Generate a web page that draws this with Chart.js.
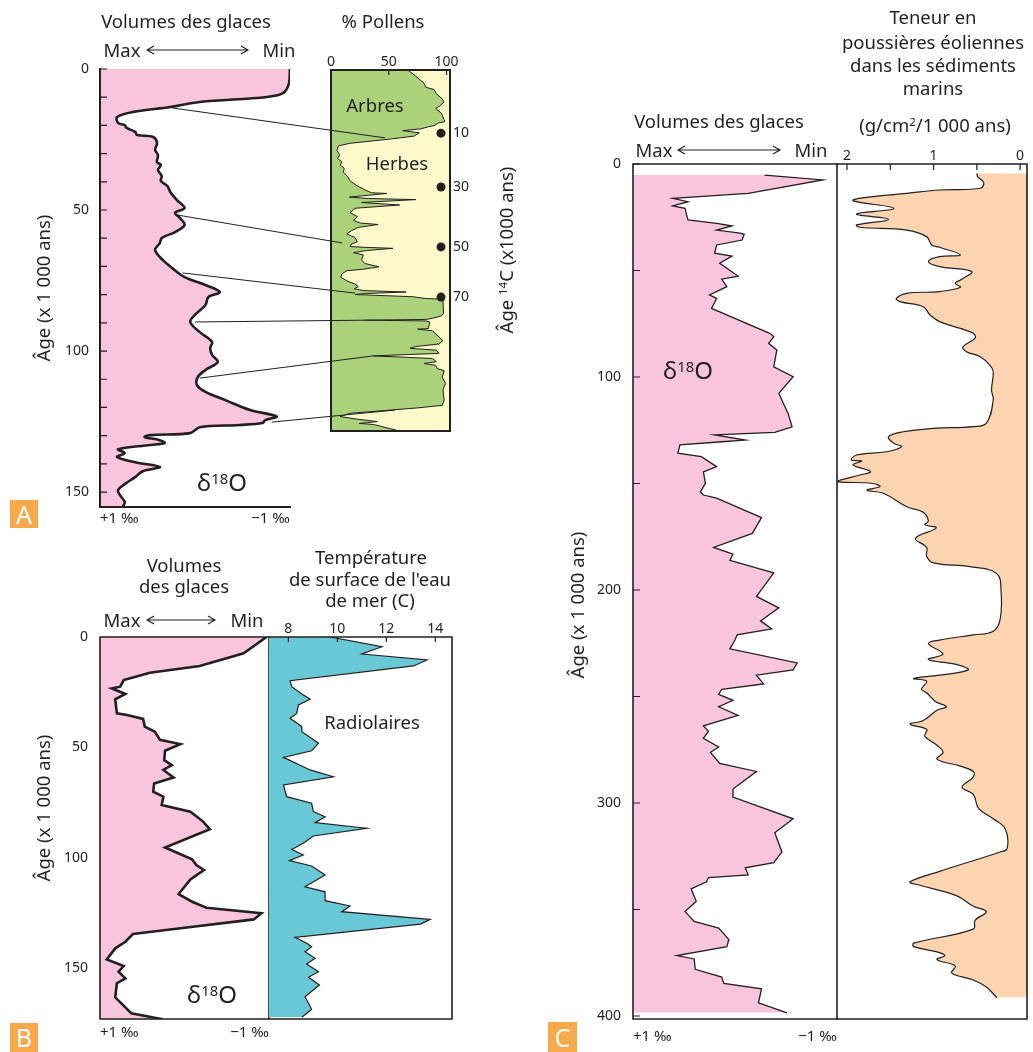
<!DOCTYPE html>
<html lang="fr">
<head>
<meta charset="utf-8">
<title>Volumes des glaces</title>
<script src="https://cdn.jsdelivr.net/npm/chart.js@4.4.1/dist/chart.umd.min.js"></script>
<style>
  body { margin: 0; background: #fff; }
  #page { position: relative; width: 1033px; height: 1052px; overflow: hidden;
          font-family: 'Noto Sans', sans-serif; color: #231f20; }
  #page canvas, #page svg { position: absolute; left: 0; top: 0; }
  .t { position: absolute; white-space: nowrap; transform: translate(-50%, -50%);
       font-size: 18.5px; line-height: 1; }
  .rot { transform: translate(-50%, -50%) rotate(-90deg); }
  .big { font-size: 24px; }
  .t sup { font-size: 0.62em; vertical-align: 0.5em; line-height: 0; }
  .tag { position: absolute; background: #f8a94b; color: #fff; font-size: 25px;
         display: flex; align-items: center; justify-content: center; line-height: 1; }
</style>
</head>
<body>
<div id="page">
  <canvas id="cA1" width="1033" height="1052"></canvas>
  <canvas id="cA2" width="1033" height="1052"></canvas>
  <canvas id="cB1" width="1033" height="1052"></canvas>
  <canvas id="cB2" width="1033" height="1052"></canvas>
  <canvas id="cC1" width="1033" height="1052"></canvas>
  <canvas id="cC2" width="1033" height="1052"></canvas>

  <svg width="1033" height="1052">
    <g stroke="#231f20" stroke-width="1.1" fill="none">
      <path d="M147 50 H248 M154 46 L147 50 L154 54 M241 46 L248 50 L241 54"/>
      <path d="M147 620 H215 M154 616 L147 620 L154 624 M208 616 L215 620 L208 624"/>
      <path d="M678 150 H780 M685 146 L678 150 L685 154 M773 146 L780 150 L773 154"/>
    </g>
  </svg>

  <!-- A -->
  <div class="t" style="left:186px;top:21px">Volumes des glaces</div>
  <div class="t" style="left:122px;top:50px">Max</div>
  <div class="t" style="left:279px;top:50px">Min</div>
  <div class="t" style="left:383px;top:21px">% Pollens</div>
  <div class="t" style="left:375px;top:105px">Arbres</div>
  <div class="t" style="left:397px;top:163px">Herbes</div>
  <div class="t rot" style="left:506px;top:250px">Âge <sup>14</sup>C (x1000 ans)</div>
  <div class="t rot" style="left:43px;top:288px">Âge (x 1 000 ans)</div>
  <div class="t big" style="left:222px;top:482px">δ<sup>18</sup>O</div>
  <div class="tag" style="left:10px;top:500px;width:28px;height:28px">A</div>

  <!-- B -->
  <div class="t" style="left:184px;top:565px">Volumes</div>
  <div class="t" style="left:184px;top:586px">des glaces</div>
  <div class="t" style="left:122px;top:620px">Max</div>
  <div class="t" style="left:247px;top:620px">Min</div>
  <div class="t" style="left:371px;top:557px">Température</div>
  <div class="t" style="left:370px;top:579px">de surface de l'eau</div>
  <div class="t" style="left:370px;top:600px">de mer (C)</div>
  <div class="t" style="left:372px;top:722px">Radiolaires</div>
  <div class="t rot" style="left:43px;top:808px">Âge (x 1 000 ans)</div>
  <div class="t big" style="left:212px;top:994px">δ<sup>18</sup>O</div>
  <div class="tag" style="left:10px;top:1023px;width:28px;height:29px">B</div>

  <!-- C -->
  <div class="t" style="left:933px;top:17px">Teneur en</div>
  <div class="t" style="left:933px;top:42px">poussières éoliennes</div>
  <div class="t" style="left:933px;top:65px">dans les sédiments</div>
  <div class="t" style="left:933px;top:88px">marins</div>
  <div class="t" style="left:935px;top:125px">(g/cm<sup>2</sup>/1 000 ans)</div>
  <div class="t" style="left:719px;top:121px">Volumes des glaces</div>
  <div class="t" style="left:654px;top:150px">Max</div>
  <div class="t" style="left:811px;top:150px">Min</div>
  <div class="t rot" style="left:577px;top:605px">Âge (x 1 000 ans)</div>
  <div class="t big" style="left:688px;top:370px">δ<sup>18</sup>O</div>
  <div class="tag" style="left:548px;top:1022px;width:29px;height:30px">C</div>
</div>

<script>
// ---- A : delta 18O (‰) en fonction de l'âge (x 1000 ans)
const ageA = [0, 5, 8.5, 9.9, 11.7, 13.5, 15.2, 17, 19.1, 19.9,
  20.9, 22.3, 23.4, 24.1, 26.2, 28.7, 30.5, 33, 34, 35.8,
  37.9, 39.7, 41.5, 43.6, 46.5, 49.3, 51, 52.8, 55.3, 57.8,
  59.9, 61.7, 64.2, 67.7, 70.6, 73.8, 76.6, 79.1, 80.9, 83.7,
  87.2, 89.7, 93.3, 96.8, 98.9, 101.4, 103.9, 106.7, 109.2, 112,
  114.5, 117.4, 120.9, 123.2, 124.5, 125.5, 126.2, 127, 129.1, 129.8,
  130.5, 131.6, 132.6, 133.3, 134.8, 136.2, 137.6, 139.4, 141.1, 142.6,
  144.7, 147.2, 149.3, 151.1, 153.5, 155.3];
const d18oA = [-1.0, -0.99, -0.93, -0.76, -0.05, 0.26, 0.65, 0.82, 0.81, 0.74,
  0.72, 0.63, 0.61, 0.44, 0.40, 0.42, 0.39, 0.40, 0.36, 0.39,
  0.35, 0.36, 0.29, 0.26, 0.19, 0.11, 0.21, 0.16, 0.11, 0.21,
  0.35, 0.37, 0.42, 0.34, 0.24, 0.11, -0.11, -0.26, -0.14, -0.11,
  0.0, 0.05, -0.05, -0.18, -0.16, -0.18, -0.24, -0.11, -0.03, -0.02,
  -0.11, -0.32, -0.58, -0.86, -0.74, -0.71, -0.47, -0.05, 0.05, 0.47,
  0.53, 0.37, 0.32, 0.47, 0.81, 0.74, 0.82, 0.63, 0.37, 0.55,
  0.63, 0.74, 0.81, 0.79, 0.74, 0.76];
const ticksAgeA = [0, 10, 20, 30, 40, 50, 60, 70, 80, 90, 100, 110, 120, 130, 140, 150];

// ---- A : pollens (profondeur relative 0-100, % d'arbres)
const profPollen = [0, 1.7, 3.7, 4.8, 5.4, 6.6, 8.0, 8.9, 10.0, 10.7,
  12.0, 13.7, 14.3, 14.7, 15.4, 15.8, 16.3, 16.8, 17.4, 18.3,
  19.2, 20.3, 21.0, 22.2, 23.5, 24.5, 25.4, 26.3, 27.2, 28.4,
  29.4, 30.7, 31.9, 33.2, 34.0, 34.2, 34.7, 35.2, 35.6, 35.9,
  36.7, 37.4, 38.3, 39.5, 40.6, 41.7, 42.4, 42.8, 43.6, 44.5,
  45.4, 46.4, 47.6, 48.2, 48.9, 49.1, 49.4, 50.0, 50.6, 51.2,
  52.6, 53.6, 54.5, 55.2, 55.6, 56.5, 57.4, 58.4, 59.3, 60.0,
  60.6, 61.1, 61.5, 61.9, 62.2, 62.8, 63.3, 63.5, 67.4, 68.1,
  68.8, 69.1, 69.3, 69.5, 69.8, 71.6, 71.8, 72.2, 73.1, 75.0,
  75.9, 76.6, 77.1, 77.6, 78.5, 79.2, 79.9, 80.8, 81.3, 81.8,
  82.7, 83.3, 85.1, 86.8, 88.6, 91.4, 92.9, 93.6, 95.1, 96.0,
  96.6, 97.4, 97.9, 98.2, 100];
const arbresPct = [66.4, 73.5, 80.6, 82.1, 89.2, 91.2, 96.3, 97.7, 94.0, 90.6,
  95.7, 97.7, 98.6, 92.9, 89.2, 83.5, 77.8, 62.1, 76.4, 72.1,
  49.3, 16.5, 6.6, 5.1, 7.4, 5.7, 9.4, 8.0, 11.4, 10.8,
  14.2, 16.5, 21.7, 29.3, 35.0, 48.4, 32.2, 16.0, 32.2, 73.5,
  26.5, 59.3, 20.8, 16.5, 22.8, 19.4, 25.6, 40.7, 23.6, 17.9,
  13.7, 20.8, 22.8, 17.9, 16.5, 27.9, 53.6, 30.8, 19.4, 27.9,
  26.5, 29.3, 41.6, 27.9, 13.7, 9.4, 8.5, 13.7, 20.8, 23.6,
  19.9, 28.5, 65.0, 30.8, 20.8, 70.7, 82.1, 96.9, 97.4, 95.7,
  87.7, 82.1, 29.3, 82.1, 85.5, 84.3, 74.9, 87.7, 90.6, 96.9,
  93.4, 73.5, 68.4, 91.2, 93.4, 36.5, 87.7, 91.2, 80.6, 90.6,
  92.0, 98.0, 96.3, 99.1, 96.9, 98.0, 96.3, 74.9, 16.5, 8.0,
  19.9, 39.9, 24.5, 37.0, 59.3];
const pollenTicks = [0, 50, 100];
const c14Prof = [17.5, 32.4, 49.0, 62.9];
const c14Labels = ['10', '30', '50', '70'];
const c14RepereePct = 95.2;

// ---- A : traits de correlation (age / d18O -> profondeur / %)
const lienAge = [13.8, 51.8, 72.3, 89.7, 109.6, 125.2];
const lienD18o = [0.24, 0.18, 0.13, 0.0, -0.05, -0.81];
const lienProf = [18.8, 47.9, 61.8, 69.3, 79.2, 94.2];
const lienPct = [46.7, 9.5, 20.8, 29.4, 36.4, 55.4];

// ---- B : delta 18O
const ageB = [0, 7.4, 13.1, 16.2, 18.3, 19.5, 22.5, 23.3, 25.8, 28.2,
  34.6, 35.3, 37.1, 40.6, 42.9, 46.6, 48.5, 51.5, 55.7, 58.0,
  60.2, 63.6, 66.3, 70.1, 72.3, 76.1, 79.1, 83.6, 87.1, 95.3,
  100.7, 103.3, 105.5, 109.8, 116.4, 119.9, 122.6, 125.1, 127.9, 131.2,
  134.5, 138.0, 141.0, 146.0, 149.0, 151.6, 154.6, 156.8, 163.2, 170.4,
  173.1];
const d18oB = [-0.97, -0.70, -0.18, 0.41, 0.61, 0.72, 0.76, 0.86, 0.70, 0.82,
  0.80, 0.68, 0.49, 0.47, 0.35, 0.29, 0.05, 0.23, 0.24, 0.15,
  0.25, 0.13, 0.36, 0.37, 0.25, 0.27, -0.07, -0.22, -0.30, 0.23,
  -0.09, -0.14, -0.23, -0.07, 0.07, -0.09, -0.26, -0.91, -0.82, -0.10,
  0.61, 0.70, 0.82, 0.92, 0.72, 0.78, 0.70, 0.80, 0.82, 0.63,
  0.26];
const ticksAgeB = [0, 50, 100, 150];

// ---- B : temperature de surface (radiolaires)
const ageT = [0, 4.4, 7.7, 10.4, 13.1, 19.8, 22.5, 25.8, 28.2, 30.8,
  34.6, 36.8, 40.6, 42.9, 48.1, 51.5, 54.5, 60.2, 63.3, 67.0,
  72.3, 75.3, 79.1, 81.4, 84.1, 86.6, 90.1, 93.4, 96.2, 98.7,
  101.3, 103.7, 107.8, 113.1, 115.4, 119.4, 121.8, 124.4, 127.9, 130.0,
  136.0, 138.7, 140.3, 142.5, 145.5, 148.1, 151.6, 154.1, 157.6, 162.9,
  168.6, 172.2];
const tempB = [9.70, 11.82, 11.0, 13.66, 13.11, 8.07, 8.14, 8.55, 8.89, 8.41,
  8.34, 8.07, 8.55, 8.55, 9.23, 8.95, 7.80, 8.89, 9.84, 7.80,
  7.93, 8.95, 9.02, 9.50, 9.09, 11.2, 9.02, 8.61, 8.14, 8.61,
  8.04, 8.95, 9.50, 8.68, 9.50, 9.50, 10.52, 10.18, 13.79, 13.39,
  8.27, 8.75, 8.95, 8.68, 9.09, 8.75, 9.23, 8.82, 9.27, 8.68,
  8.95, 8.55];
const tempTicks = [8, 10, 12, 14];

// ---- C : delta 18O
const ageC = [5.2, 7.5, 13.8, 16.1, 17.7, 19.7, 20.8, 24.7, 26.3, 27.9,
  29.1, 31.0, 32.5, 33.0, 35.7, 38.0, 41.9, 43.2, 46.6, 52.6,
  54.1, 57.6, 61.5, 63.1, 67.8, 79.5, 81.0, 84.2, 87.3, 95.2,
  99.9, 107.7, 117.1, 123.4, 126.0, 127.2, 129.6, 130.4, 131.9, 135.8,
  137.4, 142.1, 144.5, 149.9, 153.9, 155.4, 156.9, 166.0, 173.4, 180.0,
  183.2, 186.1, 192.0, 203.0, 208.4, 214.5, 218.3, 221.1, 223.5, 227.6,
  234.2, 237.5, 240.0, 244.1, 246.6, 249.0, 251.8, 254.8, 258.9, 263.8,
  266.3, 269.6, 273.7, 276.2, 281.4, 285.2, 293.4, 297.2, 307.4, 314.0,
  323.0, 328.0, 330.4, 333.7, 335.0, 337.0, 340.3, 346.1, 351.0, 355.6,
  358.7, 364.1, 367.4, 371.6, 373.2, 378.1, 381.7, 384.7, 387.2, 393.8,
  398.5];
const d18oC = [-0.29, -0.86, -0.13, 0.61, 0.46, 0.61, 0.49, 0.47, 0.46, 0.18,
  0.03, 0.18, -0.05, -0.09, -0.07, 0.18, 0.20, 0.03, 0.15, -0.03,
  0.13, 0.08, 0.25, 0.18, 0.23, -0.34, -0.38, -0.33, -0.41, -0.38,
  -0.57, -0.43, -0.52, -0.56, -0.39, 0.20, -0.10, 0.13, 0.54, 0.56,
  0.33, 0.18, 0.31, 0.29, 0.34, 0.31, 0.18, -0.26, -0.17, 0.21,
  0.02, 0.05, -0.38, -0.21, -0.43, -0.25, -0.36, -0.02, 0.0, 0.05,
  -0.61, -0.57, -0.21, -0.28, 0.13, 0.16, 0.02, 0.16, -0.03, 0.31,
  0.26, 0.31, 0.16, 0.24, 0.15, -0.21, 0.02, 0.02, -0.57, -0.39,
  -0.46, -0.38, -0.10, -0.13, 0.26, 0.28, 0.43, 0.38, 0.49, 0.40,
  0.16, 0.06, 0.08, 0.57, 0.40, 0.39, 0.13, 0.11, -0.26, -0.23,
  -0.51];
const ticksAgeC = [0, 50, 100, 150, 200, 250, 300, 350, 400];

// ---- C : poussieres eoliennes (g/cm2/1000 ans)
const agePoussieres = [4.4, 5.9, 8.8, 11.4, 12.2, 13.8, 15.3, 17.2, 20.8, 23.5,
  26.0, 28.6, 29.7, 31.0, 34.1, 38.0, 39.1, 42.7, 43.5, 45.8,
  48.2, 50.5, 54.5, 56.0, 57.9, 59.9, 60.7, 63.1, 64.6, 67.0,
  70.9, 74.0, 77.2, 79.5, 81.8, 85.8, 88.1, 90.5, 94.4, 97.5,
  106.1, 110.8, 121.7, 123.3, 124.1, 125.7, 128.0, 131.1, 132.7, 135.1,
  136.6, 139.0, 139.4, 141.3, 144.4, 146.0, 148.4, 149.2, 150.0, 151.5,
  153.1, 154.6, 160.9, 163.5, 167.6, 169.3, 170.9, 175.8, 180.0, 184.1,
  187.3, 189.0, 192.3, 200.5, 213.7, 219.4, 221.1, 223.5, 225.2, 230.1,
  232.6, 235.0, 237.5, 240.0, 241.6, 242.9, 246.6, 248.2, 252.3, 254.8,
  256.4, 261.3, 263.0, 265.4, 268.7, 272.9, 276.2, 279.4, 282.7, 285.2,
  287.7, 292.6, 295.9, 302.5, 307.4, 312.3, 321.4, 323.0, 332.1, 337.0,
  338.6, 343.6, 348.5, 351.0, 355.1, 359.2, 365.8, 367.4, 369.9, 371.6,
  373.5, 376.5, 379.8, 383.1, 386.4, 391.3];
const poussieres = [0.50, 0.49, 0.42, 0.46, 0.93, 1.31, 1.70, 1.93, 1.46, 1.89,
  1.52, 1.89, 1.85, 1.31, 1.08, 1.02, 0.93, 0.69, 0.93, 1.06,
  0.93, 0.56, 0.69, 0.75, 0.69, 0.93, 1.31, 1.43, 1.39, 1.12,
  1.04, 0.93, 0.69, 0.54, 0.52, 0.66, 0.62, 0.46, 0.35, 0.31,
  0.33, 0.31, 0.39, 0.54, 1.00, 1.35, 1.52, 1.46, 1.37, 1.54,
  1.89, 1.95, 1.83, 1.93, 1.73, 1.85, 2.08, 2.11, 1.70, 1.62,
  1.77, 1.58, 1.31, 1.12, 1.06, 1.10, 0.97, 1.21, 1.08, 1.08,
  1.00, 0.58, 0.27, 0.22, 0.23, 0.31, 0.54, 0.93, 1.06, 0.89,
  1.06, 0.73, 0.60, 0.93, 1.23, 1.08, 1.14, 1.08, 0.98, 0.85,
  0.96, 1.12, 1.27, 1.08, 1.10, 0.96, 0.89, 0.96, 0.69, 0.54,
  0.54, 0.67, 0.54, 0.48, 0.31, 0.17, 0.15, 0.23, 0.93, 1.27,
  1.16, 0.73, 0.54, 0.39, 0.52, 0.54, 1.23, 1.23, 0.96, 0.87,
  0.96, 0.75, 0.79, 0.54, 0.39, 0.27];
const poussieresTicks = [0, 0.5, 1, 1.5, 2];

// ---- styles
const INK = '#231f20';
const ROSE = '#f8c5dc';
const VERT = '#a9d27b';
const JAUNE = '#fff9cc';
const TURQUOISE = '#69c8d5';
const PECHE = '#fdd4b1';
const FONT = "'Noto Sans', sans-serif";
const W = 1033, H = 1052;

Chart.defaults.font.family = FONT;
Chart.defaults.color = INK;
Chart.defaults.animation = false;
Chart.defaults.responsive = false;
Chart.defaults.maintainAspectRatio = false;
Chart.defaults.events = [];
Chart.defaults.plugins.legend.display = false;
Chart.defaults.plugins.tooltip.enabled = false;

const tickFont = { family: FONT, size: 14 };
const permilFont = { family: FONT, size: 15 };
const noGrid = { display: false, drawTicks: false };
const noBorder = { display: false };

function points(ys, xs) {
  return ys.map((y, i) => ({ x: xs[i], y: y }));
}

// fixe la taille d'un axe pour caler la zone de trace
function sized(n) {
  return function (s) {
    if (s.isHorizontal()) s.height = n; else s.width = n;
    s.paddingLeft = s.paddingRight = s.paddingTop = s.paddingBottom = 0;
  };
}

function fixTicks(values) {
  return function (s) { s.ticks = values.map(v => ({ value: v })); };
}

// box = [gauche, haut, droite, bas] de la zone de trace
function padFor(box, ax) {
  return {
    left: box[0] - (ax.l || 0), top: box[1] - (ax.t || 0),
    right: W - box[2] - (ax.r || 0), bottom: H - box[3] - (ax.b || 0)
  };
}

// cadre autour de la zone de trace
const framePlugin = {
  id: 'frame',
  afterDraw(chart, args, opts) {
    const a = chart.chartArea, ctx = chart.ctx, s = opts.sides || '';
    ctx.save();
    ctx.strokeStyle = INK;
    ctx.lineWidth = opts.width || 1.5;
    ctx.lineCap = 'square';
    ctx.beginPath();
    if (s.includes('t')) { ctx.moveTo(a.left, a.top); ctx.lineTo(a.right, a.top); }
    if (s.includes('b')) { ctx.moveTo(a.left, a.bottom); ctx.lineTo(a.right, a.bottom); }
    if (s.includes('l')) { ctx.moveTo(a.left, a.top); ctx.lineTo(a.left, a.bottom); }
    if (s.includes('r')) { ctx.moveTo(a.right, a.top); ctx.lineTo(a.right, a.bottom); }
    ctx.stroke();
    ctx.restore();
  }
};

// graduations tournees vers l'interieur
const inTicksPlugin = {
  id: 'inTicks',
  afterDraw(chart, args, opts) {
    const scale = chart.scales[opts.axis];
    if (!scale) return;
    const a = chart.chartArea, ctx = chart.ctx;
    ctx.save();
    ctx.strokeStyle = INK;
    ctx.lineWidth = 1.2;
    ctx.beginPath();
    scale.ticks.forEach(t => {
      const p = scale.getPixelForValue(t.value);
      if (scale.isHorizontal()) { ctx.moveTo(p, a.top); ctx.lineTo(p, a.top + opts.len); }
      else { ctx.moveTo(a.left, p); ctx.lineTo(a.left + opts.len, p); }
    });
    ctx.stroke();
    ctx.restore();
  }
};

// fond de la zone de trace
const areaBgPlugin = {
  id: 'areaBg',
  beforeDatasetsDraw(chart, args, opts) {
    if (!opts.color) return;
    const a = chart.chartArea, ctx = chart.ctx;
    ctx.save();
    ctx.fillStyle = opts.color;
    ctx.fillRect(a.left, a.top, a.right - a.left, a.bottom - a.top);
    ctx.restore();
  }
};

const charts = {};

function ageAxis(max, values, every, pad, width) {
  return {
    type: 'linear', position: 'left', reverse: true, min: 0, max: max,
    grid: noGrid, border: noBorder,
    afterFit: sized(width), afterBuildTicks: fixTicks(values),
    ticks: {
      autoSkip: false, padding: pad, font: tickFont, color: INK,
      callback: v => (Math.round(v) % every === 0 ? String(Math.round(v)) : '')
    }
  };
}

function hiddenAge(max) {
  return { type: 'linear', reverse: true, min: 0, max: max, display: false };
}

function permilAxis(pad) {
  return {
    type: 'linear', position: 'bottom', reverse: true, min: -1, max: 1,
    grid: noGrid, border: noBorder,
    afterFit: sized(30), afterBuildTicks: fixTicks([-1, 1]),
    ticks: {
      align: 'inner', padding: pad, font: permilFont, color: INK, autoSkip: false,
      callback: v => (v > 0 ? '+1 ‰' : '−1 ‰')
    }
  };
}

// ---------- A1 : d18O
(function () {
  const box = [100, 69, 290, 507];
  charts.A1 = new Chart(document.getElementById('cA1'), {
    type: 'line',
    data: { datasets: [{
      data: points(ageA, d18oA), borderColor: INK, borderWidth: 2.6,
      pointRadius: 0, tension: 0.35, fill: { value: 1 }, backgroundColor: ROSE
    }] },
    options: {
      indexAxis: 'y',
      layout: { padding: padFor(box, { l: 40, b: 30 }) },
      scales: { x: permilAxis(3), y: ageAxis(155.3, ticksAgeA, 50, 11, 40) },
      plugins: { frame: { sides: 'lb', width: 2 }, inTicks: { axis: 'y', len: 7 } }
    },
    plugins: [framePlugin, inTicksPlugin]
  });
})();

// ---------- A2 : pollens + traits de correlation
(function () {
  const box = [331, 70, 450, 431];
  const liensPlugin = {
    id: 'liens',
    afterDraw(chart) {
      const a1 = charts.A1;
      const ctx = chart.ctx;
      ctx.save();
      ctx.strokeStyle = INK;
      ctx.lineWidth = 1;
      ctx.beginPath();
      lienAge.forEach((age, i) => {
        ctx.moveTo(a1.scales.x.getPixelForValue(lienD18o[i]), a1.scales.y.getPixelForValue(age));
        ctx.lineTo(chart.scales.x.getPixelForValue(lienPct[i]), chart.scales.y.getPixelForValue(lienProf[i]));
      });
      ctx.stroke();
      ctx.restore();
    }
  };
  charts.A2 = new Chart(document.getElementById('cA2'), {
    type: 'line',
    data: { datasets: [
      {
        data: c14Prof.map(p => ({ x: c14RepereePct, y: p })), showLine: false,
        pointRadius: 4.5, pointBackgroundColor: INK, pointBorderWidth: 0
      },
      {
        data: points(profPollen, arbresPct), borderColor: INK, borderWidth: 1,
        pointRadius: 0, tension: 0, fill: { value: 0 }, backgroundColor: VERT
      }
    ] },
    options: {
      indexAxis: 'y',
      layout: { padding: padFor(box, { t: 20, r: 40 }) },
      scales: {
        x: {
          type: 'linear', position: 'top', min: 0, max: 103,
          grid: noGrid, border: noBorder,
          afterFit: sized(20), afterBuildTicks: fixTicks(pollenTicks),
          ticks: { padding: 0, font: tickFont, color: INK, autoSkip: false }
        },
        y: {
          type: 'linear', position: 'right', reverse: true, min: 0, max: 100,
          grid: noGrid, border: noBorder,
          afterFit: sized(40), afterBuildTicks: fixTicks(c14Prof),
          ticks: { padding: 3, font: tickFont, color: INK, autoSkip: false,
                   callback: (v, i) => c14Labels[i] }
        }
      },
      plugins: {
        areaBg: { color: JAUNE },
        frame: { sides: 'tblr', width: 2 },
        inTicks: { axis: 'x', len: 5 }
      }
    },
    plugins: [areaBgPlugin, framePlugin, inTicksPlugin, liensPlugin]
  });
})();

// ---------- B1 : d18O
(function () {
  const box = [100, 637, 269, 1019];
  charts.B1 = new Chart(document.getElementById('cB1'), {
    type: 'line',
    data: { datasets: [{
      data: points(ageB, d18oB), borderColor: INK, borderWidth: 2.6,
      pointRadius: 0, tension: 0, fill: { value: 1 }, backgroundColor: ROSE
    }] },
    options: {
      indexAxis: 'y',
      layout: { padding: padFor(box, { l: 40, b: 30 }) },
      scales: { x: permilAxis(5), y: ageAxis(173, ticksAgeB, 50, 12, 40) },
      plugins: { frame: { sides: 'tblr', width: 1.6 } }
    },
    plugins: [framePlugin]
  });
})();

// ---------- B2 : temperature
(function () {
  const box = [269, 637, 452, 1019];
  const TMIN = 7.21;
  charts.B2 = new Chart(document.getElementById('cB2'), {
    type: 'line',
    data: { datasets: [{
      data: points(ageT, tempB), borderColor: INK, borderWidth: 1.2,
      pointRadius: 0, tension: 0, fill: { value: TMIN }, backgroundColor: TURQUOISE
    }] },
    options: {
      indexAxis: 'y',
      layout: { padding: padFor(box, { t: 20 }) },
      scales: {
        x: {
          type: 'linear', position: 'top', min: TMIN, max: 14.68,
          grid: noGrid, border: noBorder,
          afterFit: sized(20), afterBuildTicks: fixTicks(tempTicks),
          ticks: { padding: 0, font: tickFont, color: INK, autoSkip: false }
        },
        y: hiddenAge(173)
      },
      plugins: { frame: { sides: 'tbr', width: 1.6 }, inTicks: { axis: 'x', len: 5 } }
    },
    plugins: [framePlugin, inTicksPlugin]
  });
})();

// ---------- C1 : d18O
(function () {
  const box = [633, 164, 837, 1019];
  charts.C1 = new Chart(document.getElementById('cC1'), {
    type: 'line',
    data: { datasets: [{
      data: points(ageC, d18oC), borderColor: INK, borderWidth: 1.3,
      pointRadius: 0, tension: 0, fill: { value: 1 }, backgroundColor: ROSE
    }] },
    options: {
      indexAxis: 'y',
      layout: { padding: padFor(box, { l: 50, b: 30 }) },
      scales: { x: permilAxis(9), y: ageAxis(401.4, ticksAgeC, 100, 12, 50) },
      plugins: { frame: { sides: 'tblr', width: 1.6 }, inTicks: { axis: 'y', len: 7 } }
    },
    plugins: [framePlugin, inTicksPlugin]
  });
})();

// ---------- C2 : poussieres eoliennes
(function () {
  const box = [837, 164, 1027, 1019];
  const PMIN = -0.08;
  charts.C2 = new Chart(document.getElementById('cC2'), {
    type: 'line',
    data: { datasets: [{
      data: points(agePoussieres, poussieres), borderColor: INK, borderWidth: 1.2,
      pointRadius: 0, tension: 0.4, fill: { value: PMIN }, backgroundColor: PECHE
    }] },
    options: {
      indexAxis: 'y',
      layout: { padding: padFor(box, { t: 20 }) },
      scales: {
        x: {
          type: 'linear', position: 'top', reverse: true, min: PMIN, max: 2.116,
          grid: noGrid, border: noBorder,
          afterFit: sized(20), afterBuildTicks: fixTicks(poussieresTicks),
          ticks: { padding: 0, font: tickFont, color: INK, autoSkip: false,
                   callback: v => (Number.isInteger(v) ? String(v) : '') }
        },
        y: hiddenAge(401.4)
      },
      plugins: { frame: { sides: 'tbr', width: 1.6 }, inTicks: { axis: 'x', len: 6 } }
    },
    plugins: [framePlugin, inTicksPlugin]
  });
})();
</script>
</body>
</html>
